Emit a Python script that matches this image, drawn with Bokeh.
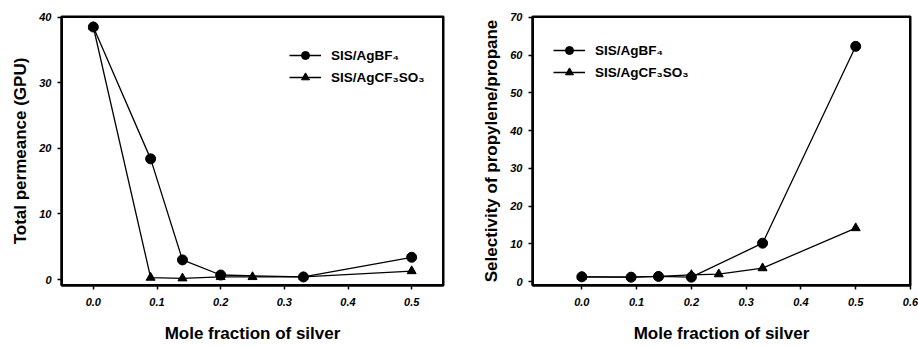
from bokeh.plotting import figure
from bokeh.layouts import row
from bokeh.models import Range1d, Legend, LegendItem, FixedTicker, NumeralTickFormatter
from bokeh.embed import file_html
from bokeh.resources import INLINE

# Left panel: total permeance
x_bf4_l = [0.0, 0.09, 0.14, 0.2, 0.33, 0.5]
y_bf4_l = [38.5, 18.4, 3.0, 0.7, 0.4, 3.4]
x_cf3_l = [0.0, 0.09, 0.14, 0.2, 0.25, 0.33, 0.5]
y_cf3_l = [38.5, 0.3, 0.2, 0.4, 0.4, 0.4, 1.3]

# Right panel: selectivity
x_bf4_r = [0.0, 0.09, 0.14, 0.2, 0.33, 0.5]
y_bf4_r = [1.3, 1.2, 1.4, 1.2, 10.2, 62.3]
x_cf3_r = [0.0, 0.09, 0.14, 0.2, 0.25, 0.33, 0.5]
y_cf3_r = [1.3, 1.2, 1.4, 1.8, 2.0, 3.6, 14.2]

label_bf4 = "SIS/AgBF\u2084"
label_cf3 = "SIS/AgCF\u2083SO\u2083"

xt_left = [0.0, 0.1, 0.2, 0.3, 0.4, 0.5]
yt_left = [0, 10, 20, 30, 40]
xt_right = [0.0, 0.1, 0.2, 0.3, 0.4, 0.5, 0.6]
yt_right = [0, 10, 20, 30, 40, 50, 60, 70]

FONT = "Liberation Sans"


def style(p, xticks, yticks, xlabel, ylabel, xr, yr):
    p.outline_line_color = "black"
    p.outline_line_width = 2
    p.xgrid.grid_line_color = None
    p.ygrid.grid_line_color = None
    for ax in (p.xaxis[0], p.yaxis[0]):
        ax.axis_line_color = "black"
        ax.axis_line_width = 2
        ax.major_tick_in = 0
        ax.major_tick_out = 4
        ax.major_tick_line_width = 1.5
        ax.major_tick_line_color = "black"
        ax.minor_tick_line_color = None
        ax.major_label_text_font = FONT
        ax.major_label_text_font_size = "11px"
        ax.major_label_text_font_style = "bold italic"
        ax.major_label_text_color = "black"
        ax.axis_label_text_font = FONT
        ax.axis_label_text_font_style = "bold"
        ax.axis_label_text_color = "black"
    p.xaxis[0].ticker = FixedTicker(ticks=xticks)
    p.yaxis[0].ticker = FixedTicker(ticks=yticks)
    p.xaxis[0].formatter = NumeralTickFormatter(format="0.0")
    p.xaxis[0].axis_label = xlabel
    p.yaxis[0].axis_label = ylabel
    p.xaxis[0].major_label_standoff = 8
    p.xaxis[0].axis_label_standoff = 15
    p.xaxis[0].axis_label_text_font_size = "17px"
    p.yaxis[0].major_label_standoff = 6
    p.yaxis[0].axis_label_text_font_size = "17px"
    p.yaxis[0].axis_label_standoff = 6
    # frame box as a glyph spanning the axis ranges
    p.quad(left=[xr[0]], right=[xr[1]], bottom=[yr[0]], top=[yr[1]],
           fill_alpha=0, line_color="black", line_width=3)


def panel(xb, yb, xc, yc, xr, yr, xticks, yticks, ylabel, width, bl, br, legend_loc):
    p = figure(width=width, height=345, output_backend="svg", toolbar_location=None,
               x_range=Range1d(*xr), y_range=Range1d(*yr),
               min_border_left=bl, min_border_right=br, min_border_top=16, min_border_bottom=52)
    style(p, xticks, yticks, "Mole fraction of silver", ylabel, xr, yr)
    l1 = p.line(xb, yb, line_color="black", line_width=1.3)
    s1 = p.scatter(xb, yb, marker="circle", size=10, fill_color="black", line_color="black")
    l2 = p.line(xc, yc, line_color="black", line_width=1.3)
    s2 = p.scatter(xc, yc, marker="triangle", size=9, fill_color="black", line_color="black")
    leg = Legend(items=[LegendItem(label=label_bf4, renderers=[l1, s1]),
                        LegendItem(label=label_cf3, renderers=[l2, s2])],
                 location=legend_loc, orientation="vertical")
    leg.border_line_color = None
    leg.background_fill_alpha = 0
    leg.padding = 0
    leg.margin = 0
    leg.spacing = 2
    leg.glyph_width = 32
    leg.glyph_height = 20
    leg.label_standoff = 10
    leg.label_text_font = FONT
    leg.label_text_font_style = "bold"
    leg.label_text_font_size = "13.5px"
    leg.label_text_color = "black"
    p.add_layout(leg, "center")
    return p


p1 = panel(x_bf4_l, y_bf4_l, x_cf3_l, y_cf3_l, (-0.05, 0.55), (-0.9, 40.1),
           xt_left, yt_left, "Total permeance (GPU)", 460, 61, 17, (228, 198))
p2 = panel(x_bf4_r, y_bf4_r, x_cf3_r, y_cf3_r, (-0.09, 0.6), (-1.0, 70.2),
           xt_right, yt_right, "Selectivity of propylene/propane", 458, 72, 8, (21, 203))

layout = row(p1, p2)
open("out.html", "w").write(file_html(layout, INLINE))
